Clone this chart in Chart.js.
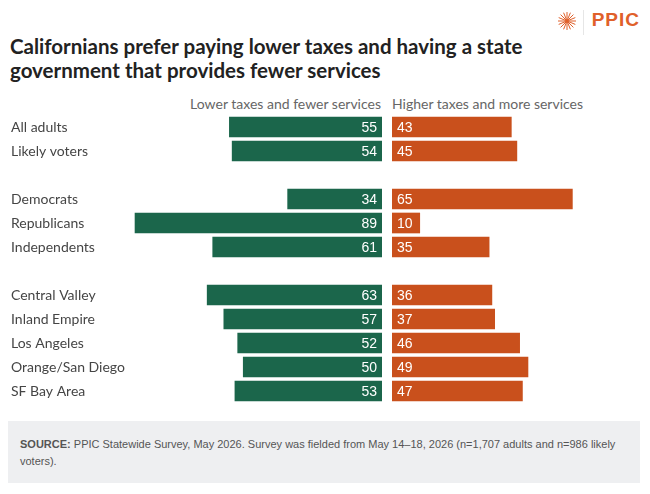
<!DOCTYPE html>
<html>
<head>
<meta charset="utf-8">
<script src="https://cdn.jsdelivr.net/npm/chart.js@4/dist/chart.umd.min.js"></script>
<style>
  html, body { margin: 0; padding: 0; background: #fff; }
  #wrap { position: relative; width: 650px; height: 494px; overflow: hidden; font-family: Lato, "Open Sans", sans-serif; }
  .title { position: absolute; left: 10px; top: 34px; width: 600px; font-size: 20.5px; font-weight: bold; line-height: 24px; color: #222; }
  .head { position: absolute; top: 95px; font-size: 14px; color: #666; white-space: nowrap; }
  .logo { position: absolute; right: 10px; top: 9px; font-family: "Liberation Sans", Arial, sans-serif; font-weight: bold; font-size: 19px; color: #e0602a; letter-spacing: 1px; }
  .divider { position: absolute; left: 583px; top: 10px; width: 1px; height: 25px; background: #e6e6e6; }
  .footer { position: absolute; left: 8px; top: 421px; width: 632px; height: 62px; background: #eeeff1; }
  .footer p { margin: 0; padding: 15px 12px 0 12px; font-family: "Liberation Sans", Arial, sans-serif; font-size: 11px; line-height: 17px; color: #555; }
  canvas { position: absolute; }
</style>
</head>
<body>
<div id="wrap">
  <svg style="position:absolute;left:557px;top:11px" width="20" height="20" viewBox="-10 -10 20 20">
    <g stroke="#e0602a" stroke-width="1">
      <line x1="0" y1="-9" x2="0" y2="9"/><line x1="-9" y1="0" x2="9" y2="0"/>
      <line x1="-6.4" y1="-6.4" x2="6.4" y2="6.4"/><line x1="-6.4" y1="6.4" x2="6.4" y2="-6.4"/>
      <line x1="-3.4" y1="-8.3" x2="3.4" y2="8.3"/><line x1="3.4" y1="-8.3" x2="-3.4" y2="8.3"/>
      <line x1="-8.3" y1="-3.4" x2="8.3" y2="3.4"/><line x1="-8.3" y1="3.4" x2="8.3" y2="-3.4"/>
    </g>
  </svg>
  <div class="divider"></div>
  <div class="logo">PPIC</div>
  <div class="title">Californians prefer paying lower taxes and having a state<br>government that provides fewer services</div>
  <div class="head" style="right:269px">Lower taxes and fewer services</div>
  <div class="head" style="left:392px">Higher taxes and more services</div>
  <canvas id="leftChart" width="382" height="288" style="left:0;top:115px"></canvas>
  <canvas id="rightChart" width="258" height="288" style="left:392px;top:115px"></canvas>
  <div class="footer"><p><b>SOURCE:</b> PPIC Statewide Survey, May 2026. Survey was fielded from May 14&ndash;18, 2026 (n=1,707 adults and n=986 likely voters).</p></div>
</div>
<script>
const categories = ['All adults', 'Likely voters', '', 'Democrats', 'Republicans', 'Independents', '',
  'Central Valley', 'Inland Empire', 'Los Angeles', 'Orange/San Diego', 'SF Bay Area'];
const lowerTaxes = [55, 54, null, 34, 89, 61, null, 63, 57, 52, 50, 53];
const higherTaxes = [43, 45, null, 65, 10, 35, null, 36, 37, 46, 49, 47];

const green = '#1b664b';
const orange = '#c9501c';
const pxPerUnit = 2.775;

// draw the number inside each bar, near the center line
const valueLabels = {
  id: 'valueLabels',
  afterDatasetsDraw(chart, args, opts) {
    const ctx = chart.ctx;
    const meta = chart.getDatasetMeta(0);
    const values = chart.data.datasets[0].data;
    ctx.save();
    ctx.font = '14px "Liberation Sans", Arial, sans-serif';
    ctx.fillStyle = '#fff';
    ctx.textBaseline = 'middle';
    ctx.textAlign = opts.side === 'left' ? 'right' : 'left';
    meta.data.forEach((bar, i) => {
      if (values[i] == null) return;
      const x = opts.side === 'left' ? bar.base - 5 : bar.base + 5;
      ctx.fillText(values[i], x, bar.y + 1);
    });
    ctx.restore();
  }
};

function makeChart(id, data, color, side) {
  const canvas = document.getElementById(id);
  const yAxisWidth = side === 'left' ? 114 : 0;
  const areaWidth = canvas.width - yAxisWidth - (side === 'left' ? 11 : 0);
  return new Chart(canvas, {
    type: 'bar',
    data: {
      labels: categories,
      datasets: [{
        data: data,
        backgroundColor: color,
        barThickness: 20
      }]
    },
    options: {
      indexAxis: 'y',
      responsive: false,
      animation: false,
      devicePixelRatio: 1,
      layout: { padding: { left: side === 'left' ? 11 : 0, right: 0, top: 0, bottom: 0 } },
      plugins: {
        legend: { display: false },
        tooltip: { enabled: false },
        valueLabels: { side: side }
      },
      scales: {
        x: {
          display: false,
          reverse: side === 'left',
          min: 0,
          max: areaWidth / pxPerUnit
        },
        y: {
          display: side === 'left',
          grid: { display: false },
          border: { display: false },
          ticks: {
            crossAlign: 'far',
            color: '#454545',
            font: { family: 'Lato, "Open Sans", sans-serif', size: 14 }
          },
          afterFit(scale) {
            scale.width = yAxisWidth;
            scale.paddingTop = 0;
            scale.paddingBottom = 0;
          }
        }
      }
    },
    plugins: [valueLabels]
  });
}

makeChart('leftChart', lowerTaxes, green, 'left');
makeChart('rightChart', higherTaxes, orange, 'right');
</script>
</body>
</html>
